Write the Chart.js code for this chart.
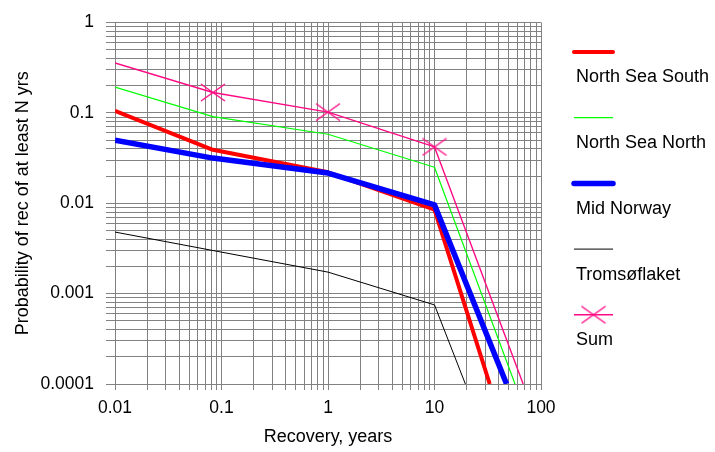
<!DOCTYPE html>
<html>
<head>
<meta charset="utf-8">
<script src="https://cdn.jsdelivr.net/npm/chart.js@4.4.0/dist/chart.umd.min.js"></script>
<style>
  html, body { margin: 0; padding: 0; background: #fff; }
  #wrap { width: 715px; height: 452px; }
</style>
</head>
<body>
<div id="wrap"><canvas id="chart" width="715" height="452"></canvas></div>
<script>
// Recovery time (years) at the break points of each curve
const recoveryYears = [0.01, 0.083, 1, 10];

// Probability of recovery lasting at least N years, per area
const northSeaSouth = [0.105, 0.039, 0.022, 0.0085];
const northSeaNorth = [0.193, 0.091, 0.058, 0.025];
const midNorway     = [0.05, 0.0316, 0.0216, 0.0096];
const tromsoflaket  = [0.0048, 0.003, 0.00173, 0.00075];
const sumAreas      = [0.356, 0.168, 0.102, 0.042];

// where each curve reaches the bottom of the axis
const tailYears = [33, 57, 47.5, 19.5, 68];
const tailProbability = 0.0001;

const seriesNames = ['North Sea South', 'North Sea North', 'Mid Norway', 'Tromsøflaket', 'Sum'];

const xTickLabels = ['0.01', '0.1', '1', '10', '100'];
const yTickLabels = ['0.0001', '0.001', '0.01', '0.1', '1'];

const FONT = "'Liberation Sans', Arial, sans-serif";
const GRID = '#828282';

// flattened X marker used for the Sum curve
function makeStar(color) {
  const c = document.createElement('canvas');
  c.width = 26; c.height = 19;
  const g = c.getContext('2d');
  g.strokeStyle = color;
  g.lineWidth = 1.4;
  g.beginPath();
  g.moveTo(1, 1); g.lineTo(25, 18);
  g.moveTo(1, 18); g.lineTo(25, 1);
  g.stroke();
  return c;
}
const star = makeStar('#ff0a84');

function toPoints(values, tail) {
  const pts = recoveryYears.map((x, i) => ({ x: x, y: values[i] }));
  pts.push({ x: tail, y: tailProbability });
  return pts;
}

// 1..9 per decade, plus the closing decade
function logGrid(minExp, maxExp) {
  const t = [];
  for (let e = minExp; e < maxExp; e++) {
    for (let m = 1; m < 10; m++) t.push({ value: m * Math.pow(10, e) });
  }
  t.push({ value: Math.pow(10, maxExp) });
  return t;
}

const legendPlugin = {
  id: 'sideLegend',
  afterDraw(chart) {
    const ctx = chart.ctx;
    const x0 = chart.chartArea.right + 33;
    const lineLen = 39;
    ctx.save();
    chart.data.datasets.forEach((ds, i) => {
      const ly = 52 + i * 65.7;
      ctx.strokeStyle = ds.borderColor;
      ctx.lineWidth = ds.borderWidth;
      ctx.lineCap = ds.borderWidth > 2 ? 'round' : 'butt';
      ctx.beginPath();
      ctx.moveTo(x0, ly);
      ctx.lineTo(x0 + lineLen, ly);
      ctx.stroke();
      if (ds.label === 'Sum') {
        ctx.drawImage(star, x0 + lineLen / 2 - star.width / 2, ly - star.height / 2);
      }
      ctx.fillStyle = '#000';
      ctx.font = '18px ' + FONT;
      ctx.textBaseline = 'middle';
      ctx.textAlign = 'left';
      ctx.fillText(ds.label, x0 + 2, ly + 25.5);
    });
    ctx.restore();
  }
};

new Chart(document.getElementById('chart'), {
  type: 'line',
  data: {
    datasets: [
      { label: seriesNames[0], data: toPoints(northSeaSouth, tailYears[0]), borderColor: '#ff0000', borderWidth: 4, order: 5 },
      { label: seriesNames[1], data: toPoints(northSeaNorth, tailYears[1]), borderColor: '#00ff00', borderWidth: 1.2, order: 4 },
      { label: seriesNames[2], data: toPoints(midNorway, tailYears[2]), borderColor: '#0000ff', borderWidth: 5.5, order: 3 },
      { label: seriesNames[3], data: toPoints(tromsoflaket, tailYears[3]), borderColor: '#000000', borderWidth: 1, order: 2 },
      {
        label: seriesNames[4], data: toPoints(sumAreas, tailYears[4]), borderColor: '#ff0a84', borderWidth: 1.4, order: 1,
        pointStyle: star, pointRadius: [0, 6, 6, 6, 0]
      }
    ]
  },
  options: {
    responsive: false,
    animation: false,
    events: [],
    layout: { padding: { left: 0, top: 16, right: 174, bottom: 0 } },
    elements: {
      line: { tension: 0, fill: false, borderJoinStyle: 'round' },
      point: { radius: 0 }
    },
    plugins: {
      legend: { display: false },
      tooltip: { enabled: false }
    },
    scales: {
      x: {
        type: 'logarithmic',
        min: 0.01,
        max: 100,
        afterBuildTicks: (scale) => { scale.ticks = logGrid(-2, 2); },
        afterFit: (scale) => { scale.height = 68; },
        grid: { color: GRID, lineWidth: 1, tickLength: 6, tickColor: GRID },
        border: { display: false },
        ticks: {
          autoSkip: false,
          maxRotation: 0,
          padding: 8,
          color: '#000',
          font: { family: FONT, size: 17.5 },
          callback: (v, i) => (i % 9 === 0 ? xTickLabels[i / 9] : '')
        },
        title: {
          display: true,
          text: 'Recovery, years',
          color: '#000',
          font: { family: FONT, size: 18 },
          padding: { top: 0, bottom: 4 }
        }
      },
      y: {
        type: 'logarithmic',
        min: 0.0001,
        max: 1,
        afterBuildTicks: (scale) => { scale.ticks = logGrid(-4, 0); },
        afterFit: (scale) => { scale.width = 115; },
        grid: { color: GRID, lineWidth: 1, tickLength: 9, tickColor: GRID },
        border: { display: false },
        ticks: {
          autoSkip: false,
          padding: 12,
          color: '#000',
          font: { family: FONT, size: 17.5 },
          callback: (v, i) => (i % 9 === 0 ? yTickLabels[i / 9] : '')
        },
        title: {
          display: true,
          text: 'Probability of rec of at least N yrs',
          color: '#000',
          font: { family: FONT, size: 18 },
          padding: { top: 12, bottom: 0 }
        }
      }
    }
  },
  plugins: [legendPlugin]
});
</script>
</body>
</html>
